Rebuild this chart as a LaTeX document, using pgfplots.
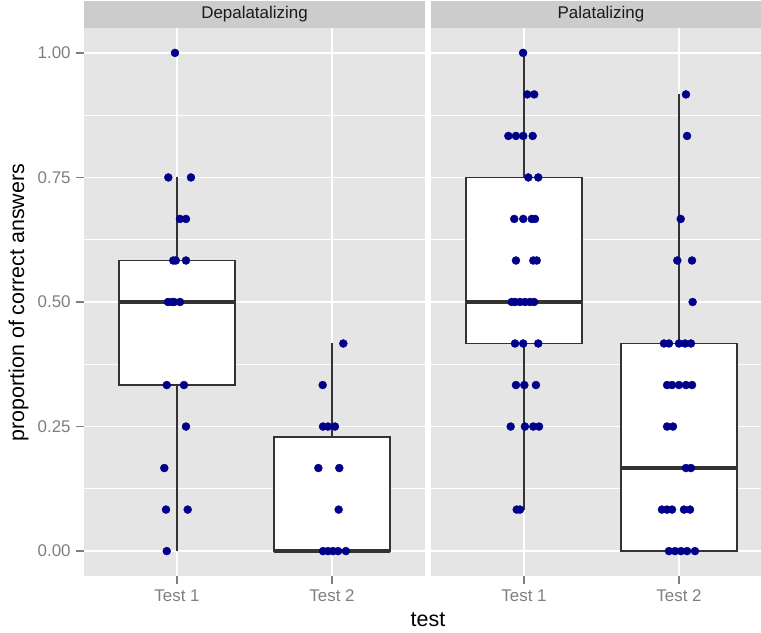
\documentclass[border=0pt]{standalone}
\usepackage{fontspec}
\setmainfont{Liberation Sans}
\usepackage{pgfplots}
\pgfplotsset{compat=1.18}
\usepgfplotslibrary{statistics}
\definecolor{panelbg}{HTML}{E5E5E5}
\definecolor{stripbg}{HTML}{CCCCCC}
\definecolor{tickgray}{HTML}{7F7F7F}
\definecolor{boxline}{HTML}{333333}
\definecolor{dotblue}{HTML}{00008B}
\definecolor{striptext}{HTML}{1A1A1A}

\pgfplotsset{
  facet/.style={
    scale only axis, anchor=south west,
    height=548bp,
    ymin=-0.05, ymax=1.05, xmin=0.4,
    axis background/.style={fill=panelbg},
    axis line style={draw=none},
    xtick={1,2}, xticklabels={Test 1,Test 2},
    ytick={0,0.25,0.5,0.75,1},
    minor ytick={0.125,0.375,0.625,0.875},
    xmajorgrids, ymajorgrids, yminorgrids,
    major grid style={white, line width=1.8bp},
    minor grid style={white, line width=0.9bp},
    tick pos=left, tick align=outside,
    major tick length=7.7bp, minor tick length=0pt,
    tick style={tickgray, line width=1.5bp},
    ticklabel style={font=\fontsize{17}{20}\selectfont, text=tickgray},
    xticklabel style={inner sep=0pt, yshift=-5.5bp},
    yticklabel style={inner sep=0pt, xshift=-5.5bp},
    boxplot/draw direction=y,
    boxplot/every median/.style={line width=3.6bp},
  },
  bx/.style={draw=boxline, fill=white, line width=1.8bp, solid},
  pts/.style={only marks, color=dotblue, mark=*, mark size=4bp, mark options={draw=none, fill=dotblue}},
}

\begin{document}
\begin{tikzpicture}
\path[use as bounding box] (0,0) rectangle (761bp,633bp);

% ---------------- Depalatalizing ----------------
\begin{axis}[facet, at={(84bp,57bp)}, width=341bp, xmax=2.6,
  yticklabels={0.00,0.25,0.50,0.75,1.00}]
\addplot[bx, boxplot prepared={draw position=1, lower whisker=0, lower quartile=0.3333,
  median=0.5, upper quartile=0.5833, upper whisker=0.75, box extend=0.75, whisker extend=0}]
  coordinates {};
\addplot[bx, boxplot prepared={draw position=2, lower whisker=0, lower quartile=0,
  median=0, upper quartile=0.229, upper whisker=0.4167, box extend=0.75, whisker extend=0}]
  coordinates {};
% Test 1 points
\addplot[pts] coordinates {
 (0.987,1) (0.944,0.75) (1.090,0.75) (1.019,0.6667) (1.058,0.6667)
 (0.976,0.5833) (0.992,0.5833) (1.058,0.5833)
 (0.942,0.5) (0.968,0.5) (0.981,0.5) (1.019,0.5)
 (0.934,0.3333) (1.045,0.3333) (1.058,0.25) (0.918,0.1667)
 (0.929,0.0833) (1.069,0.0833) (0.934,0)
};
% Test 2 points
\addplot[pts] coordinates {
 (2.073,0.4167) (1.940,0.3333) (1.942,0.25) (1.974,0.25) (2.019,0.25)
 (1.912,0.1667) (2.047,0.1667) (2.043,0.0833)
 (1.942,0) (1.974,0) (2.006,0) (2.039,0) (2.090,0)
};
\end{axis}

% ---------------- Palatalizing ----------------
\begin{axis}[facet, at={(431bp,57bp)}, width=330bp, xmax=2.529,
  yticklabels={}, ytick style={draw=none}]
\addplot[bx, boxplot prepared={draw position=1, lower whisker=0.0833, lower quartile=0.4167,
  median=0.5, upper quartile=0.75, upper whisker=1, box extend=0.75, whisker extend=0}]
  coordinates {};
\addplot[bx, boxplot prepared={draw position=2, lower whisker=0, lower quartile=0,
  median=0.1667, upper quartile=0.4167, upper whisker=0.9167, box extend=0.75, whisker extend=0}]
  coordinates {};
% Test 1 points
\addplot[pts] coordinates {
 (0.994,1) (1.021,0.9167) (1.066,0.9167)
 (0.899,0.8333) (0.948,0.8333) (0.995,0.8333) (1.056,0.8333)
 (1.028,0.75) (1.092,0.75)
 (0.937,0.6667) (0.995,0.6667) (1.050,0.6667) (1.071,0.6667)
 (0.948,0.5833) (1.060,0.5833) (1.082,0.5833)
 (0.921,0.5) (0.942,0.5) (0.974,0.5) (1.006,0.5) (1.039,0.5) (1.065,0.5)
 (0.942,0.4167) (0.995,0.4167) (1.092,0.4167)
 (0.948,0.3333) (1.002,0.3333) (1.077,0.3333)
 (0.914,0.25) (1.006,0.25) (1.060,0.25) (1.097,0.25)
 (0.953,0.0833) (0.974,0.0833)
};
% Test 2 points
\addplot[pts] coordinates {
 (2.045,0.9167) (2.052,0.8333) (2.011,0.6667)
 (1.989,0.5833) (2.084,0.5833) (2.088,0.5)
 (1.903,0.4167) (1.935,0.4167) (2.000,0.4167) (2.039,0.4167) (2.077,0.4167)
 (1.923,0.3333) (1.955,0.3333) (2.000,0.3333) (2.045,0.3333) (2.084,0.3333)
 (1.923,0.25) (1.961,0.25)
 (2.045,0.1667) (2.077,0.1667)
 (1.890,0.0833) (1.923,0.0833) (1.955,0.0833) (2.032,0.0833) (2.071,0.0833)
 (1.935,0) (1.974,0) (2.013,0) (2.052,0) (2.103,0)
};
\end{axis}

% strips
\fill[stripbg] (84bp,605bp) rectangle (425bp,632bp);
\fill[stripbg] (431bp,605bp) rectangle (761bp,632bp);
\node[font=\fontsize{17}{20}\selectfont, text=striptext] at (254.5bp,618.5bp) {Depalatalizing};
\node[font=\fontsize{17}{20}\selectfont, text=striptext] at (601bp,618.5bp) {Palatalizing};

% axis titles
\node[rotate=90, font=\fontsize{21.5}{26}\selectfont] at (18.5bp,330.5bp) {proportion of correct answers};
\node[anchor=base, font=\fontsize{21.5}{26}\selectfont] at (428bp,7bp) {test};
\end{tikzpicture}
\end{document}
